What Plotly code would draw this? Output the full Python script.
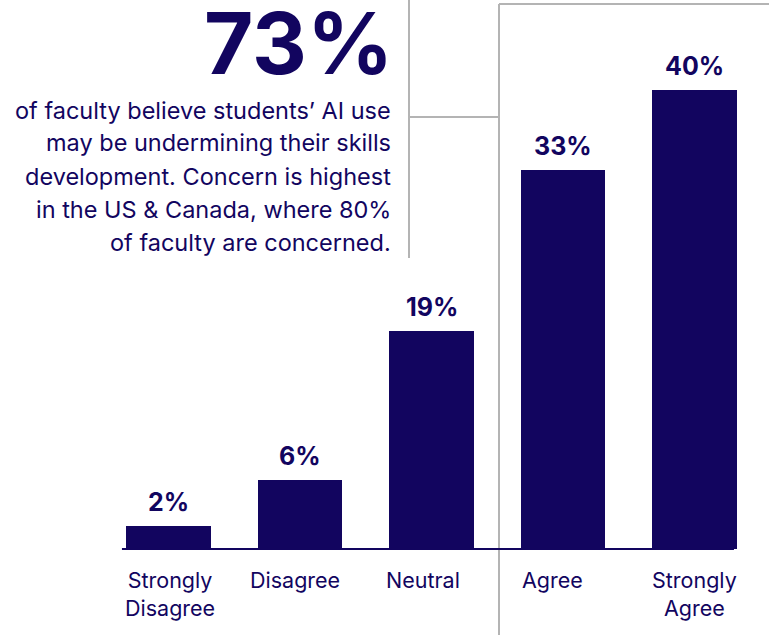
import plotly.graph_objects as go

# ---- data ----
categories = ["Strongly<br>Disagree", "Disagree", "Neutral", "Agree", "Strongly<br>Agree"]
values = [2, 6, 19, 33, 40]
value_labels = ["2%", "6%", "19%", "33%", "40%"]
headline = "73%"
body_lines = [
    "of faculty believe students’ AI use",
    "may be undermining their skills",
    "development. Concern is highest",
    "in the US & Canada, where 80%",
    "of faculty are concerned.",
]

# ---- style ----
NAVY = "#12055F"
GRAY = "#B4B4B4"
FONT = "Inter"
W, H = 769, 635
LABEL_XSHIFT = [1, -5, -9, -11, 0]  # pixel nudges of category labels


def px(xp):
    return xp / W


def py(yp):
    return 1 - yp / H


xs = list(range(len(categories)))
fig = go.Figure(
    go.Bar(x=xs, y=values, width=0.646, marker=dict(color=NAVY, line_width=0),
           hoverinfo="skip", showlegend=False)
)

annotations = []
for i, (v, lab) in enumerate(zip(values, value_labels)):
    annotations.append(dict(x=i, y=v, xref="x", yref="y", text=f"<b>{lab}</b>",
                            showarrow=False, yanchor="bottom", yshift=7,
                            font=dict(family=FONT, size=25, color=NAVY)))
for i, c in enumerate(categories):
    annotations.append(dict(x=i, y=0, xref="x", yref="y", text=c, showarrow=False,
                            yanchor="top", yshift=-16, xshift=LABEL_XSHIFT[i], align="center",
                            font=dict(family=FONT, size=21.5, color=NAVY)))

annotations.append(dict(x=px(395), y=py(43), xref="paper", yref="paper",
                        text=f"<b>{headline}</b>", showarrow=False,
                        xanchor="right", yanchor="middle",
                        font=dict(family=FONT, size=85, color=NAVY)))
for k, line in enumerate(body_lines):
    annotations.append(dict(x=px(393), y=py(110 + 33 * k), xref="paper", yref="paper",
                            text=line, showarrow=False, xanchor="right", yanchor="middle",
                            font=dict(family=FONT, size=23.5, color=NAVY)))

shapes = [
    dict(type="line", xref="paper", yref="paper", x0=px(409), x1=px(409), y0=py(0), y1=py(258),
         line=dict(color=GRAY, width=2)),
    dict(type="line", xref="paper", yref="paper", x0=px(409), x1=px(499), y0=py(117), y1=py(117),
         line=dict(color=GRAY, width=2)),
    dict(type="line", xref="paper", yref="paper", x0=px(499), x1=px(499), y0=py(4), y1=py(635),
         line=dict(color=GRAY, width=2)),
    dict(type="line", xref="paper", yref="paper", x0=px(499), x1=px(769), y0=py(4), y1=py(4),
         line=dict(color=GRAY, width=2)),
    dict(type="line", xref="x", yref="y", x0=-0.354, x1=4.30, y0=0, y1=0,
         line=dict(color=NAVY, width=2), layer="above"),
]

fig.update_layout(
    width=W, height=H,
    margin=dict(l=0, r=0, t=0, b=0),
    paper_bgcolor="white", plot_bgcolor="white",
    xaxis=dict(range=[-1.2814, 4.5665], visible=False, fixedrange=True),
    yaxis=dict(range=[-7.494, 47.84], visible=False, fixedrange=True),
    annotations=annotations,
    shapes=shapes,
    bargap=0,
)

fig.write_html("out.html", config={"displayModeBar": False},
               post_script="document.body.style.margin='0';")
